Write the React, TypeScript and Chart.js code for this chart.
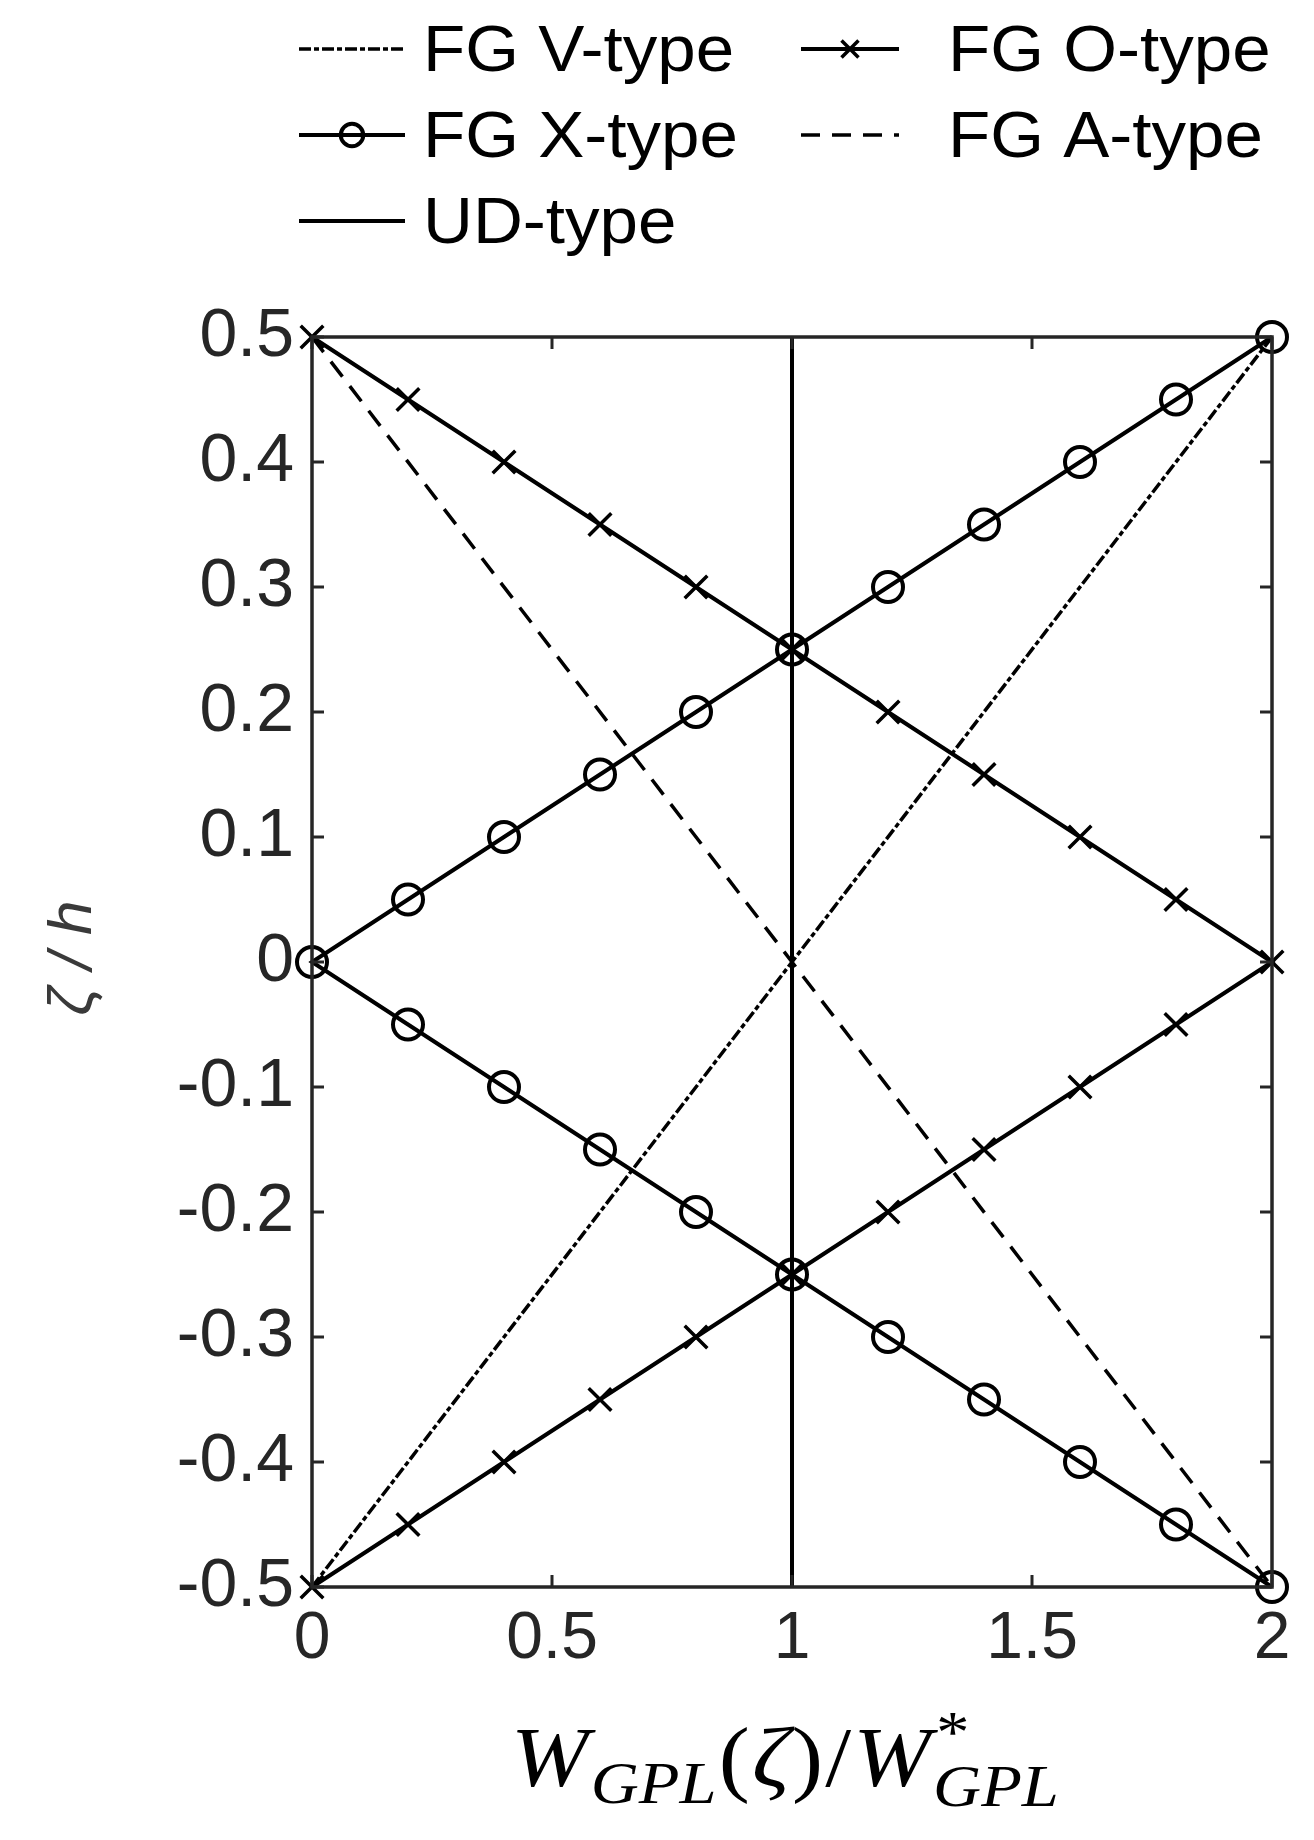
import React, { useEffect, useRef } from 'react';
import { Chart, registerables } from 'chart.js';

Chart.register(...registerables);

// ---- Data ----
const zeta = [-0.5, -0.45, -0.4, -0.35, -0.3, -0.25, -0.2, -0.15, -0.1, -0.05, 0, 0.05, 0.1, 0.15, 0.2, 0.25, 0.3, 0.35, 0.4, 0.45, 0.5];
const xTypeW = [2, 1.8, 1.6, 1.4, 1.2, 1, 0.8, 0.6, 0.4, 0.2, 0, 0.2, 0.4, 0.6, 0.8, 1, 1.2, 1.4, 1.6, 1.8, 2];
const oTypeW = [0, 0.2, 0.4, 0.6, 0.8, 1, 1.2, 1.4, 1.6, 1.8, 2, 1.8, 1.6, 1.4, 1.2, 1, 0.8, 0.6, 0.4, 0.2, 0];
const vTypeW = [0, 1, 2];
const vTypeZeta = [-0.5, 0, 0.5];
const aTypeW = [0, 1, 2];
const aTypeZeta = [0.5, 0, -0.5];
const udW = [1, 1];
const udZeta = [-0.5, 0.5];

const xTicks = [0, 0.5, 1, 1.5, 2];
const xTickLabels = ['0', '0.5', '1', '1.5', '2'];
const yTicks = [-0.5, -0.4, -0.3, -0.2, -0.1, 0, 0.1, 0.2, 0.3, 0.4, 0.5];
const yTickLabels = ['-0.5', '-0.4', '-0.3', '-0.2', '-0.1', '0', '0.1', '0.2', '0.3', '0.4', '0.5'];

const legendOrder = ['FG V-type', 'FG O-type', 'FG X-type', 'FG A-type', 'UD-type'];

const pts = (xs: number[], ys: number[]) => xs.map((x, i) => ({ x, y: ys[i] }));

const SANS = "'Liberation Sans', Arial, sans-serif";
const SERIF = "'Liberation Serif', 'DejaVu Serif', serif";
const AXIS_COLOR = '#262626';

function drawMarker(ctx: CanvasRenderingContext2D, style: string, r: number, x: number, y: number, lw: number) {
  ctx.save();
  ctx.lineWidth = lw;
  ctx.strokeStyle = '#000';
  ctx.setLineDash([]);
  ctx.beginPath();
  if (style === 'circle') {
    ctx.arc(x, y, r, 0, Math.PI * 2);
  } else if (style === 'crossRot') {
    const d = r * Math.SQRT1_2;
    ctx.moveTo(x - d, y - d);
    ctx.lineTo(x + d, y + d);
    ctx.moveTo(x + d, y - d);
    ctx.lineTo(x - d, y + d);
  }
  ctx.stroke();
  ctx.restore();
}

const decorPlugin = {
  id: 'decor',
  afterDatasetsDraw(chart: any) {
    const { ctx, chartArea } = chart;
    const xs = chart.scales.x;
    const ys = chart.scales.y;
    const { left, right, top, bottom } = chartArea;
    ctx.save();
    ctx.strokeStyle = AXIS_COLOR;
    ctx.lineWidth = 3.5;
    ctx.setLineDash([]);
    ctx.strokeRect(left, top, right - left, bottom - top);
    const tl = 12;
    ctx.lineWidth = 3;
    ctx.beginPath();
    xTicks.forEach((v) => {
      const px = xs.getPixelForValue(v);
      ctx.moveTo(px, bottom);
      ctx.lineTo(px, bottom - tl);
      ctx.moveTo(px, top);
      ctx.lineTo(px, top + tl);
    });
    yTicks.forEach((v) => {
      const py = ys.getPixelForValue(v);
      ctx.moveTo(left, py);
      ctx.lineTo(left + tl, py);
      ctx.moveTo(right, py);
      ctx.lineTo(right - tl, py);
    });
    ctx.stroke();
    ctx.restore();
  },
  afterDraw(chart: any) {
    const { ctx, chartArea } = chart;
    const { left, right, top, bottom } = chartArea;
    ctx.save();

    // ---- Legend (two columns, no box) ----
    const colSample = [[299, 405], [801, 899]];
    const colText = [423, 948];
    const rowBase = [71, 157, 243];
    ctx.fillStyle = '#000';
    ctx.textBaseline = 'alphabetic';
    ctx.textAlign = 'left';
    legendOrder.forEach((name, i) => {
      const ds = chart.data.datasets.find((d: any) => d.label === name);
      if (!ds) return;
      const col = i % 2;
      const row = Math.floor(i / 2);
      const yb = rowBase[row];
      const yl = yb - 22;
      const [x0, x1] = colSample[col];
      ctx.save();
      ctx.strokeStyle = '#000';
      ctx.lineWidth = ds.borderWidth;
      ctx.setLineDash(ds.borderDash || []);
      ctx.beginPath();
      ctx.moveTo(x0, yl);
      ctx.lineTo(x1, yl);
      ctx.stroke();
      ctx.restore();
      if (ds.pointRadius > 0) {
        drawMarker(ctx, ds.pointStyle, ds.pointRadius * 0.75, (x0 + x1) / 2, yl, ds.pointBorderWidth);
      }
      ctx.save();
      ctx.font = `64px ${SANS}`;
      ctx.translate(colText[col], yb);
      ctx.scale(1.08, 1);
      ctx.fillText(name, 0, 0);
      ctx.restore();
    });

    // ---- Y axis title: ζ / h ----
    ctx.save();
    ctx.translate(74, (top + bottom) / 2 - 4);
    ctx.rotate(-Math.PI / 2);
    ctx.font = `italic 62px ${SANS}`;
    ctx.fillStyle = '#3a3a3a';
    ctx.textAlign = 'center';
    ctx.textBaseline = 'middle';
    ctx.fillText('ζ / h', 0, 0);
    ctx.restore();

    // ---- X axis title: W_GPL(ζ)/W*_GPL ----
    const big = 84;
    const small = 60;
    const fBigI = `italic ${big}px ${SERIF}`;
    const fBig = `${big}px ${SERIF}`;
    const fSmallI = `italic ${small}px ${SERIF}`;
    type Seg = { t: string; f: string; dy: number; stackNext?: boolean };
    const segs: Seg[] = [
      { t: 'W', f: fBigI, dy: 0 },
      { t: 'GPL', f: fSmallI, dy: 17 },
      { t: '(', f: fBig, dy: 0 },
      { t: 'ζ', f: fBigI, dy: 0 },
      { t: ')', f: fBig, dy: 0 },
      { t: '/', f: fBig, dy: 0 },
      { t: 'W', f: fBigI, dy: 0 },
      { t: '*', f: fSmallI, dy: -34, stackNext: true },
      { t: 'GPL', f: fSmallI, dy: 20 },
    ];
    const widths = segs.map((s) => {
      ctx.font = s.f;
      return ctx.measureText(s.t).width;
    });
    let total = 0;
    segs.forEach((s, i) => {
      if (s.stackNext) return;
      total += widths[i] + 2;
    });
    const targetW = 550;
    const sx = targetW / total;
    const baseY = 1786;
    ctx.save();
    ctx.translate((left + right) / 2 - 6, baseY);
    ctx.scale(sx, 1);
    let cx = -total / 2;
    ctx.fillStyle = '#000';
    ctx.textAlign = 'left';
    ctx.textBaseline = 'alphabetic';
    segs.forEach((s, i) => {
      ctx.font = s.f;
      ctx.fillText(s.t, cx, s.dy);
      if (!s.stackNext) cx += widths[i] + 2;
    });
    ctx.restore();

    ctx.restore();
  },
};

export default function App() {
  const ref = useRef<HTMLCanvasElement>(null);
  useEffect(() => {
    if (!ref.current) return;
    const common = {
      borderColor: '#000',
      backgroundColor: 'rgba(0,0,0,0)',
      pointBorderColor: '#000',
      pointBackgroundColor: 'rgba(0,0,0,0)',
      showLine: true,
      clip: false as any,
      tension: 0,
    };
    const chart = new Chart(ref.current, {
      type: 'scatter',
      data: {
        datasets: [
          { ...common, label: 'UD-type', data: pts(udW, udZeta), borderWidth: 4, pointRadius: 0, pointBorderWidth: 0, pointStyle: 'circle' },
          { ...common, label: 'FG V-type', data: pts(vTypeW, vTypeZeta), borderWidth: 3.5, borderDash: [12, 3, 5, 3], pointRadius: 0, pointBorderWidth: 0, pointStyle: 'circle' },
          { ...common, label: 'FG A-type', data: pts(aTypeW, aTypeZeta), borderWidth: 3.5, borderDash: [19, 12], pointRadius: 0, pointBorderWidth: 0, pointStyle: 'circle' },
          { ...common, label: 'FG O-type', data: pts(oTypeW, zeta), borderWidth: 4, pointRadius: 16, pointBorderWidth: 3.5, pointStyle: 'crossRot' },
          { ...common, label: 'FG X-type', data: pts(xTypeW, zeta), borderWidth: 4, pointRadius: 15, pointBorderWidth: 4, pointStyle: 'circle' },
        ] as any,
      },
      options: {
        animation: false,
        responsive: false,
        devicePixelRatio: 1,
        layout: { padding: { top: 337, left: 0, right: 42, bottom: 0 } },
        plugins: { legend: { display: false }, tooltip: { enabled: false } },
        scales: {
          x: {
            type: 'linear',
            min: 0,
            max: 2,
            grid: { display: false, drawTicks: false },
            border: { display: false },
            afterFit: (s: any) => { s.height = 253; },
            afterBuildTicks: (s: any) => { s.ticks = xTicks.map((v) => ({ value: v })); },
            ticks: {
              padding: 13,
              color: AXIS_COLOR,
              font: { family: SANS, size: 66 },
              maxRotation: 0,
              callback: (v: any) => xTickLabels[xTicks.indexOf(Number(v))] ?? '',
            },
          },
          y: {
            type: 'linear',
            min: -0.5,
            max: 0.5,
            grid: { display: false, drawTicks: false },
            border: { display: false },
            afterFit: (s: any) => { s.width = 312; },
            afterBuildTicks: (s: any) => { s.ticks = yTicks.map((v) => ({ value: v })); },
            ticks: {
              padding: 18,
              color: AXIS_COLOR,
              font: { family: SANS, size: 68 },
              callback: (v: any) => {
                const idx = yTicks.findIndex((t) => Math.abs(t - Number(v)) < 1e-9);
                return idx >= 0 ? yTickLabels[idx] : '';
              },
            },
          },
        },
      },
      plugins: [decorPlugin],
    });
    return () => chart.destroy();
  }, []);
  return (
    <div style={{ position: 'absolute', left: 0, top: 0, width: 1314, height: 1840, background: '#fff' }}>
      <canvas ref={ref} width={1314} height={1840} style={{ display: 'block', width: 1314, height: 1840 }} />
    </div>
  );
}
